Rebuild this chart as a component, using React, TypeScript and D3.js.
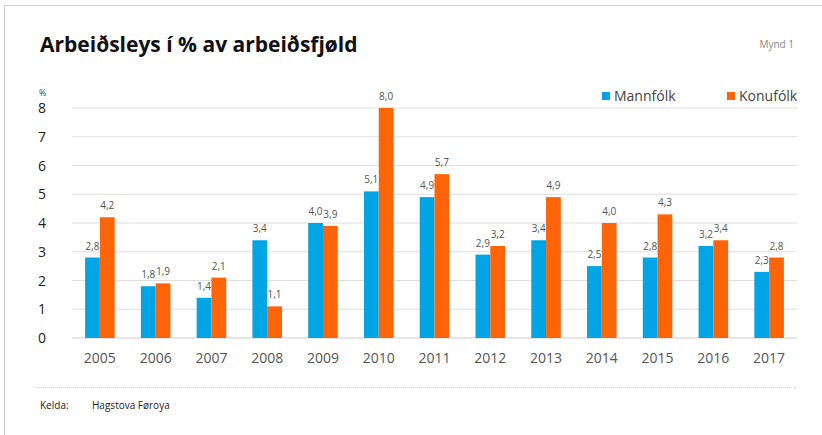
import React, { useRef, useEffect } from 'react';
import * as d3 from 'd3';

const years = ['2005', '2006', '2007', '2008', '2009', '2010', '2011', '2012', '2013', '2014', '2015', '2016', '2017'];
const mannfolk = [2.8, 1.8, 1.4, 3.4, 4.0, 5.1, 4.9, 2.9, 3.4, 2.5, 2.8, 3.2, 2.3];
const konufolk = [4.2, 1.9, 2.1, 1.1, 3.9, 8.0, 5.7, 3.2, 4.9, 4.0, 4.3, 3.4, 2.8];
const seriesNames = ['Mannfólk', 'Konufólk'];
const yTicks = [0, 1, 2, 3, 4, 5, 6, 7, 8];

const W = 822;
const H = 435;
const FONT = '"Open Sans", sans-serif';
const colors = ['#00a5e6', '#ff6408'];

const App = () => {
  const ref = useRef<SVGSVGElement>(null);

  useEffect(() => {
    if (!ref.current) return;
    const svg = d3.select(ref.current);
    svg.selectAll('*').remove();

    const plot = { left: 72, right: 797, top: 108, bottom: 338 };

    // frame
    svg.append('path')
      .attr('d', `M4.5,${H} V5.5 H${W}`)
      .attr('fill', 'none')
      .attr('stroke', '#cfcfcf');

    // title
    svg.append('text')
      .attr('x', 40).attr('y', 52)
      .attr('font-family', FONT).attr('font-weight', 700).attr('font-size', 21)
      .attr('fill', '#111')
      .text('Arbeiðsleys í % av arbeiðsfjøld');

    svg.append('text')
      .attr('x', 794).attr('y', 48)
      .attr('text-anchor', 'end')
      .attr('font-family', FONT).attr('font-size', 10)
      .attr('fill', '#888')
      .text('Mynd 1');

    const x0 = d3.scaleBand().domain(years).range([plot.left, plot.right]).paddingInner(0.47).paddingOuter(0.235);
    const x1 = d3.scaleBand().domain(seriesNames).range([0, x0.bandwidth()]);
    const y = d3.scaleLinear().domain([0, 8]).range([plot.bottom, plot.top]);

    // gridlines
    svg.append('g').selectAll('line')
      .data(yTicks)
      .enter().append('line')
      .attr('x1', plot.left).attr('x2', plot.right)
      .attr('y1', d => y(d)).attr('y2', d => y(d))
      .attr('stroke', '#dedede').attr('stroke-width', d => (d === 0 ? 1.5 : 1));

    // y labels
    svg.append('g').selectAll('text')
      .data(yTicks)
      .enter().append('text')
      .attr('x', 42).attr('y', d => y(d) + 5)
      .attr('text-anchor', 'middle')
      .attr('font-family', FONT).attr('font-size', 14)
      .attr('fill', '#222')
      .text(d => d);

    svg.append('text')
      .attr('x', 39).attr('y', 96)
      .attr('font-family', FONT).attr('font-size', 9)
      .attr('fill', '#444')
      .text('%');

    // x labels
    svg.append('g').selectAll('text')
      .data(years)
      .enter().append('text')
      .attr('x', d => (x0(d) as number) + x0.bandwidth() / 2)
      .attr('y', 363)
      .attr('text-anchor', 'middle')
      .attr('font-family', FONT).attr('font-size', 14)
      .attr('fill', '#555')
      .text(d => d);

    const fmt = (v: number) => v.toFixed(1).replace('.', ',');
    const series = [mannfolk, konufolk];

    series.forEach((vals, si) => {
      const g = svg.append('g');
      g.selectAll('rect')
        .data(vals)
        .enter().append('rect')
        .attr('x', (_, i) => (x0(years[i]) as number) + (x1(seriesNames[si]) as number))
        .attr('y', d => y(d))
        .attr('width', x1.bandwidth())
        .attr('height', d => y(0) - y(d))
        .attr('fill', colors[si]);
      g.selectAll('text')
        .data(vals)
        .enter().append('text')
        .attr('x', (_, i) => (x0(years[i]) as number) + (x1(seriesNames[si]) as number) + x1.bandwidth() / 2)
        .attr('y', d => y(d) - 8)
        .attr('text-anchor', 'middle')
        .attr('font-family', FONT).attr('font-size', 10)
        .attr('fill', '#555')
        .text(d => fmt(d));
    });

    // legend
    const legendX = [602, 727];
    seriesNames.forEach((name, i) => {
      svg.append('rect')
        .attr('x', legendX[i]).attr('y', 92)
        .attr('width', 8).attr('height', 8)
        .attr('fill', colors[i]);
      svg.append('text')
        .attr('x', legendX[i] + 12).attr('y', 101)
        .attr('font-family', FONT).attr('font-size', 14)
        .attr('fill', '#444')
        .text(name);
    });

    // footer
    svg.append('line')
      .attr('x1', 37).attr('x2', 797)
      .attr('y1', 387.5).attr('y2', 387.5)
      .attr('stroke', '#d0d0d0')
      .attr('stroke-dasharray', '1,1');

    svg.append('text')
      .attr('x', 40).attr('y', 409)
      .attr('font-family', FONT).attr('font-size', 10)
      .attr('fill', '#222')
      .text('Kelda:');
    svg.append('text')
      .attr('x', 92).attr('y', 409)
      .attr('font-family', FONT).attr('font-size', 10)
      .attr('fill', '#222')
      .text('Hagstova Føroya');
  }, []);

  return (
    <svg
      ref={ref}
      width={W}
      height={H}
      style={{ position: 'absolute', left: 0, top: 0, background: '#fff' }}
    />
  );
};

export default App;
